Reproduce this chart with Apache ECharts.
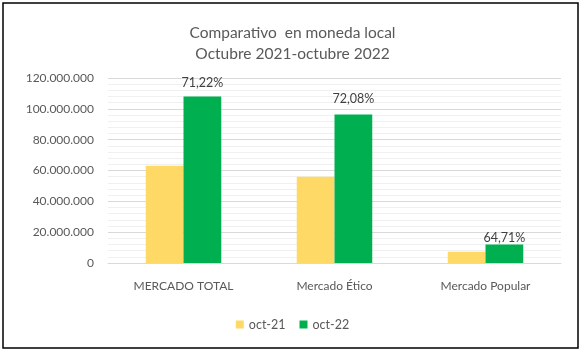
<!DOCTYPE html>
<html><head><meta charset="utf-8">
<script src="https://cdn.jsdelivr.net/npm/echarts@6/dist/echarts.min.js"></script>
<style>html,body{margin:0;padding:0;background:#fff}#c{width:585px;height:355px}</style>
</head><body><div id="c"></div>
<script>
const categories = ['MERCADO TOTAL', 'Mercado Ético', 'Mercado Popular'];
const oct21 = [63070000, 56000000, 7300000];
const oct22 = [108000000, 96300000, 12020000];
const growthLabels = ['71,22%', '72,08%', '64,71%'];
const seriesNames = ['oct-21', 'oct-22'];
const yTicks = [0, 20000000, 40000000, 60000000, 80000000, 100000000, 120000000];

function fmt(v){ return String(v).replace(/\B(?=(\d{3})+(?!\d))/g, '.'); }

const labelShift = [1, -1, 8];

const chart = echarts.init(document.getElementById('c'));
chart.setOption({
  animation: false,
  textStyle: { fontFamily: 'Lato' },
  title: {
    text: 'Comparativo  en moneda local\nOctubre 2021-octubre 2022',
    left: 'center', top: 17,
    textStyle: { fontFamily: 'Lato', fontSize: 15.5, fontWeight: 'normal', color: '#595959', lineHeight: 21 }
  },
  graphic: [{
    type: 'rect', shape: { x: 3, y: 3, width: 575, height: 345 },
    style: { fill: 'none', stroke: '#000', lineWidth: 1.5 }, silent: true
  }],
  legend: {
    data: seriesNames, bottom: 19, left: 'center', icon: 'rect', itemWidth: 8, itemHeight: 8, itemGap: 14,
    textStyle: { fontFamily: 'Lato', fontSize: 12.5, color: '#595959' }
  },
  grid: { left: 108, right: 24, top: 78, bottom: 92 },
  xAxis: {
    type: 'category', data: categories,
    axisLine: { lineStyle: { color: '#d9d9d9' } }, axisTick: { show: false },
    axisLabel: { color: '#595959', fontSize: 12, margin: 17, fontFamily: 'Lato' }
  },
  yAxis: {
    type: 'value', min: yTicks[0], max: yTicks[yTicks.length - 1], interval: 20000000,
    axisLine: { show: false }, axisTick: { show: false },
    axisLabel: { color: '#595959', fontSize: 12, margin: 14, fontFamily: 'Lato', formatter: fmt },
    splitLine: { lineStyle: { color: '#d9d9d9' } },
    minorTick: { show: false, splitNumber: 5 },
    minorSplitLine: { show: true, lineStyle: { color: '#f0f0f0' } }
  },
  series: [
    { name: seriesNames[0], type: 'bar', data: oct21, itemStyle: { color: '#FFD966' }, barGap: '0%', barCategoryGap: '50%' },
    { name: seriesNames[1], type: 'bar', data: oct22, itemStyle: { color: '#00B050' }, barGap: '0%', barCategoryGap: '50%',
      label: { show: true, position: 'top', distance: 8, color: '#404040', fontSize: 12.5, fontFamily: 'Lato',
        formatter: p => growthLabels[p.dataIndex] },
      labelLayout: p => ({ dy: labelShift[p.dataIndex] })
    }
  ]
});
</script></body></html>
